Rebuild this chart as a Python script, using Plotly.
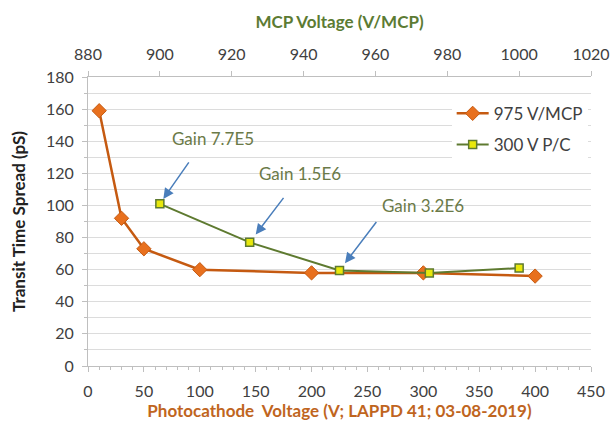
import plotly.graph_objects as go

# Transit time spread vs photocathode voltage (MCP fixed at 975 V/MCP)
pc_voltage = [10, 30, 50, 100, 200, 300, 400]
tts_pc_scan = [159, 92, 73, 60, 58, 58, 56]

# Transit time spread vs MCP voltage (photocathode fixed at 300 V)
mcp_voltage = [900, 925, 950, 975, 1000]
tts_mcp_scan = [101, 77, 59.5, 58, 61]

# Gain labels attached to the first three MCP-scan points
gain_labels = ["Gain 7.7E5", "Gain 1.5E6", "Gain 3.2E6"]

FONT = "Lato"
ORANGE_LINE = "#C55A11"
ORANGE_MARK = "#E8701E"
GREEN_LINE = "#5E7A30"
YELLOW_MARK = "#E8E80C"
AXIS_GREY = "#BFBFBF"
GRID_GREY = "#DCDCDC"
TICK_COLOR = "#404040"

fig = go.Figure()

fig.add_trace(go.Scatter(
    x=pc_voltage, y=tts_pc_scan, name="975 V/MCP",
    mode="lines+markers", legendgroup="pc",
    line=dict(color=ORANGE_LINE, width=2.5),
    marker=dict(symbol="diamond", size=11, color=ORANGE_MARK,
                line=dict(color=ORANGE_LINE, width=1)),
    xaxis="x", yaxis="y",
))

fig.add_trace(go.Scatter(
    x=mcp_voltage, y=tts_mcp_scan, name="300 V P/C",
    mode="lines+markers", legendgroup="mcp",
    line=dict(color=GREEN_LINE, width=2),
    marker=dict(symbol="square", size=8, color=YELLOW_MARK,
                line=dict(color=GREEN_LINE, width=1.5)),
    xaxis="x2", yaxis="y",
))

# Arrow offsets (pixels) and text offsets for each gain callout
arrow_off = [(30, -43, 6), (35, -46, 10), (38, -50, 9)]
text_off = [(53, 65), (50, 69), (83, 65)]
for i, label in enumerate(gain_labels):
    ax, ay, so = arrow_off[i]
    fig.add_annotation(
        x=mcp_voltage[i], y=tts_mcp_scan[i], xref="x2", yref="y",
        text="", showarrow=True, ax=ax, ay=ay, standoff=so,
        arrowhead=2, arrowsize=1.4, arrowwidth=1.5, arrowcolor="#4A7EBB",
    )
    xs, ys = text_off[i]
    fig.add_annotation(
        x=mcp_voltage[i], y=tts_mcp_scan[i], xref="x2", yref="y",
        text=label, showarrow=False, xshift=xs, yshift=ys,
        font=dict(family=FONT, size=17, color="#6B7A48"),
    )

fig.update_layout(
    width=613, height=421,
    margin=dict(l=88, r=22, t=77, b=55),
    paper_bgcolor="white", plot_bgcolor="white",
    font=dict(family=FONT, size=16, color=TICK_COLOR),
    showlegend=True,
    legend=dict(
        x=0.723, y=0.935, xanchor="left", yanchor="top",
        bgcolor="white", borderwidth=0,
        font=dict(family=FONT, size=17, color=TICK_COLOR),
        itemwidth=32, tracegroupgap=6,
    ),
    xaxis=dict(
        range=[0, 450], dtick=50, tick0=0, automargin=False,
        showgrid=False, zeroline=False,
        showline=True, linecolor=AXIS_GREY, linewidth=1,
        ticks="outside", ticklen=5, tickcolor=AXIS_GREY,
        ticklabelstandoff=6,
        minor=dict(dtick=10, ticks="outside", ticklen=3, tickcolor=AXIS_GREY),
        tickfont=dict(family=FONT, size=16, color=TICK_COLOR),
        title=dict(text="Photocathode  Voltage (V; LAPPD 41; 03-08-2019)",
                   font=dict(family=FONT, size=17, color="#C0651E", weight="bold"),
                   standoff=14),
    ),
    xaxis2=dict(
        range=[880, 1020], dtick=20, tick0=880, automargin=False,
        overlaying="x", side="top", anchor="y",
        showgrid=False, zeroline=False,
        showline=True, linecolor=AXIS_GREY, linewidth=1,
        ticks="outside", ticklen=5, tickcolor=AXIS_GREY,
        ticklabelstandoff=5,
        tickfont=dict(family=FONT, size=16, color=TICK_COLOR),
        title=dict(text="MCP Voltage (V/MCP)",
                   font=dict(family=FONT, size=17, color="#5C7B33", weight="bold"),
                   standoff=10),
    ),
    yaxis=dict(
        range=[0, 180], dtick=20, tick0=0, automargin=False,
        showgrid=True, gridcolor=GRID_GREY, gridwidth=1,
        zeroline=False,
        showline=True, linecolor=AXIS_GREY, linewidth=1,
        ticks="outside", ticklen=5, tickcolor=AXIS_GREY,
        ticklabelstandoff=5,
        minor=dict(dtick=10, showgrid=True, gridcolor=GRID_GREY,
                   ticks="outside", ticklen=3, tickcolor=AXIS_GREY),
        tickfont=dict(family=FONT, size=16, color=TICK_COLOR),
        title=dict(text="Transit Time Spread (pS)",
                   font=dict(family=FONT, size=17, color="#222222", weight="bold"),
                   standoff=16),
    ),
)

fig.write_html("out.html")
